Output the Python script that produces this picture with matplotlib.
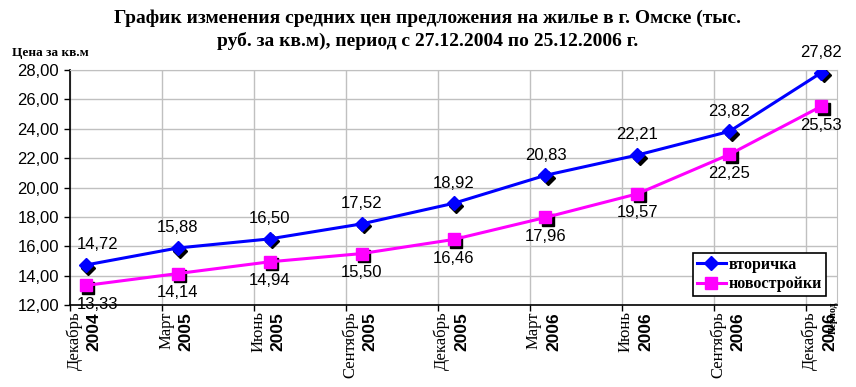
import matplotlib
matplotlib.use('Agg')
from matplotlib import pyplot as plt
from matplotlib import transforms

# data (тыс. руб. за кв.м)
months = ['Декабрь', 'Март', 'Июнь', 'Сентябрь', 'Декабрь', 'Март', 'Июнь', 'Сентябрь', 'Декабрь']
years = ['2004', '2005', '2005', '2005', '2005', '2006', '2006', '2006', '2006']
vtorichka = [14.72, 15.88, 16.50, 17.52, 18.92, 20.83, 22.21, 23.82, 27.82]
novostroyki = [13.33, 14.14, 14.94, 15.50, 16.46, 17.96, 19.57, 22.25, 25.53]

SERIF = 'Liberation Serif'
SANS = 'Liberation Sans'

fig = plt.figure(figsize=(8.56, 3.87), dpi=100)
ax = fig.add_axes([70/856, 1-305/387, (837-70)/856, (305-70)/387])

# points sit a bit right of the month tick (dates are 27.12, 25.03 ...)
xs = [i + 0.17 for i in range(len(vtorichka))]

shadow = transforms.offset_copy(ax.transData, fig=fig, x=2.5, y=-2.5, units='dots')
ax.plot(xs, vtorichka, 'D', color='black', markersize=7, transform=shadow, zorder=3)
ax.plot(xs, novostroyki, 's', color='black', markersize=9, transform=shadow, zorder=3)
l1, = ax.plot(xs, vtorichka, '-D', color='#0000FF', lw=2.2, markersize=7, zorder=4, label='вторичка')
l2, = ax.plot(xs, novostroyki, '-s', color='#FF00FF', lw=2.2, markersize=9, zorder=4, label='новостройки')

def fmt(v):
    return ('%.2f' % v).replace('.', ',')

for i, (x, v) in enumerate(zip(xs, vtorichka)):
    dx = 8.5 if i == 0 else 0
    ax.annotate(fmt(v), (x, v), xytext=(dx, 14.5), textcoords='offset points',
                ha='center', va='center', fontsize=12, family=SANS, zorder=5)
for i, (x, v) in enumerate(zip(xs, novostroyki)):
    dx = 8.5 if i == 0 else 0
    ax.annotate(fmt(v), (x, v), xytext=(dx, -13.5), textcoords='offset points',
                ha='center', va='center', fontsize=12, family=SANS, zorder=5)

ax.set_xlim(0, 8.34)
ax.set_ylim(12, 28)
ax.set_yticks(range(12, 29, 2))
ax.set_yticklabels([fmt(v) for v in range(12, 29, 2)], fontsize=12, family=SANS)
ax.set_xticks(range(len(months)))
ax.set_xticklabels([''] * len(months))
ax.tick_params(axis='both', direction='out', length=4, width=1, color='black', pad=4)
ax.grid(True, color='#C0C0C0', lw=1, zorder=0)
ax.set_axisbelow(True)
for s in ['top', 'right']:
    ax.spines[s].set_color('#C0C0C0')
for s in ['left', 'bottom']:
    ax.spines[s].set_color('black')
    ax.spines[s].set_linewidth(1.2)

for i, (m, y) in enumerate(zip(months, years)):
    ax.annotate(m, (i, 0), xycoords=('data', 'axes fraction'), xytext=(3, -4.5),
                textcoords='offset points', rotation=90, ha='center', va='top',
                fontsize=12, family=SERIF)
    ax.annotate(y, (i, 0), xycoords=('data', 'axes fraction'), xytext=(17.5, -5.5),
                textcoords='offset points', rotation=90, ha='center', va='top',
                fontsize=12.5, family=SANS, fontweight='bold')

fig.text(833/856, 1-301/387, 'Период', rotation=90, ha='center', va='top',
         fontsize=7, family=SERIF, fontweight='bold')
fig.text(12/856, 1-53/387, 'Цена за кв.м', ha='left', va='center',
         fontsize=9.5, family=SERIF, fontweight='bold')
fig.text(0.5, 1-30/387,
         'График изменения средних цен предложения на жилье в г. Омске (тыс.\n'
         'руб. за кв.м), период с 27.12.2004 по 25.12.2006 г.',
         ha='center', va='center', fontsize=14, family=SERIF, fontweight='bold',
         linespacing=1.35)

leg = ax.legend(handles=[l1, l2], loc='upper left',
                bbox_to_anchor=(693/856, 1-253/387), bbox_transform=fig.transFigure,
                borderaxespad=0, fancybox=False, framealpha=1, edgecolor='black',
                prop={'family': SERIF, 'weight': 'bold', 'size': 11.5},
                handlelength=1.8, handletextpad=0.2, borderpad=0.25, labelspacing=0.2,
                numpoints=1)
leg.get_frame().set_linewidth(1.2)

fig.savefig('out.png', dpi=100)
